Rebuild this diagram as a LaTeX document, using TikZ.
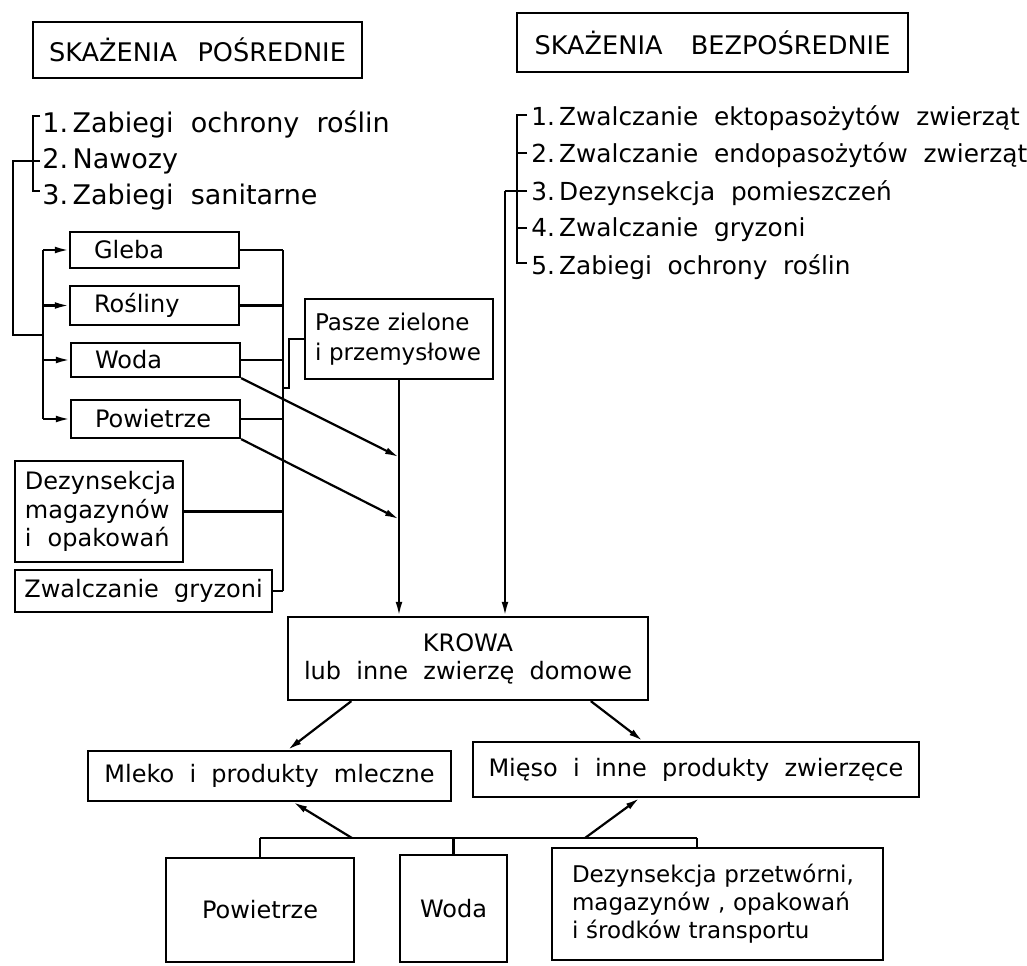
\documentclass[tikz,border=0pt]{standalone}
\usepackage{fontspec}
\setmainfont{DejaVu Sans}[WordSpace=2.0]
\usetikzlibrary{arrows.meta,calc}
\begin{document}
\begin{tikzpicture}[x=0.5pt,y=-0.5pt,
  ln/.style={line width=1.1pt},
  arr/.style={line width=1.1pt,-{Latex[length=7pt,width=3.4pt]}},
  box/.style={draw,line width=1.1pt,inner sep=0pt,font=\fontsize{12}{14.5}\selectfont},
  lbox/.style={box,align=left},
  itemL/.style={anchor=west,inner sep=0pt,font=\fontsize{13.5}{16}\selectfont},
  itemR/.style={anchor=west,inner sep=0pt,font=\fontsize{12.4}{15}\selectfont},
  ttl/.style={box,font=\fontsize{12.8}{15}\selectfont}]
\fill[white] (0,0) rectangle (1027,965);
\useasboundingbox (0,0) rectangle (1027,965);

% titles
\node[ttl,minimum width=164.5pt,minimum height=28pt] (titleL) at (197.5,50) {SKAŻENIA\hspace{0.8em}POŚREDNIE};
\node[ttl,minimum width=195.5pt,minimum height=29.5pt] (titleR) at (712.5,42.5) {SKAŻENIA\hspace{1.1em}BEZPOŚREDNIE};

% left list
\node[itemL] (l1) at (42,124) {1.\,Zabiegi ochrony roślin};
\node[itemL] (l2) at (42,161) {2.\,Nawozy};
\node[itemL] (l3) at (42,197) {3.\,Zabiegi sanitarne};

% right list
\node[itemR] (r1) at (531,118) {1.\,Zwalczanie ektopasożytów zwierząt};
\node[itemR] (r2) at (531,155) {2.\,Zwalczanie endopasożytów zwierząt};
\node[itemR] (r3) at (531,193) {3.\,Dezynsekcja pomieszczeń};
\node[itemR] (r4) at (531,230) {4.\,Zwalczanie gryzoni};
\node[itemR] (r5) at (531,267) {5.\,Zabiegi ochrony roślin};

% left boxes
\node[lbox,minimum height=18pt,inner xsep=12pt,text width=60.5pt] (gleba) at (154.5,250) {Gleba};
\node[lbox,minimum height=19.5pt,inner xsep=12pt,text width=60.5pt] (rosliny) at (154.5,305.5) {Rośliny};
\node[lbox,minimum height=17pt,inner xsep=12pt,text width=60.5pt] (woda) at (155.5,360) {Woda};
\node[lbox,minimum height=19pt,inner xsep=12pt,text width=60.5pt] (powietrze) at (155.5,419) {Powietrze};

\node[lbox,minimum height=40pt,inner xsep=5pt,text width=84pt,font=\fontsize{11.5}{15}\selectfont] (pasze) at (399,339) {Pasze~zielone\\i~przemysłowe};

\node[lbox,minimum height=50.5pt,inner xsep=5pt,text width=74pt,font=\fontsize{12}{14.25}\selectfont] (dezmag) at (99,511.5) {Dezynsekcja\\magazynów\\i~~opakowań};
\node[box,minimum width=128.5pt,minimum height=21pt] (zwalcz) at (143.5,591) {Zwalczanie gryzoni};

% central
\node[box,align=center,minimum width=180pt,minimum height=41.5pt,font=\fontsize{12}{14}\selectfont] (krowa) at (468,658.5) {KROWA\\lub inne zwierzę domowe};
\node[box,minimum width=181.5pt,minimum height=25pt] (mleko) at (269.5,776) {Mleko i produkty mleczne};
\node[box,minimum width=223pt,minimum height=27.5pt] (mieso) at (696,769.5) {Mięso i inne produkty zwierzęce};

% bottom boxes
\node[box,minimum width=94pt,minimum height=52pt] (powB) at (260,910) {Powietrze};
\node[box,minimum width=53.5pt,minimum height=53.5pt] (wodaB) at (453.5,908.5) {Woda};
\node[lbox,minimum height=56pt,inner xsep=10pt,text width=145.5pt,font=\fontsize{11.5}{14}\selectfont] (dezB) at (717.5,904) {Dezynsekcja~przetwórni,\\magazynów~,~opakowań\\i~środków~transportu};

% ---- connectors ----
% left list bracket
\coordinate (brL) at (33,0);
\coordinate (lt) at ($(l1.west)+(-2,-8)$);
\coordinate (lb) at ($(l3.west)+(-2,-6)$);
\draw[ln] (lt) -- (lt -| brL) -- (lb -| brL) -- (lb);
\coordinate (lm) at ($(l2.west)+(-2,0)$);
\coordinate (oL) at (13,335);
\coordinate (bL) at (43,335);
\draw[ln] (lm) -- (lm -| oL) -- (oL) -- (bL);
\draw[ln] (bL |- gleba.west) -- (bL |- powietrze.west);
\foreach \b in {gleba,rosliny,woda,powietrze}
  \draw[arr] (bL |- \b.west) -- (\b.west);

% right collecting bus
\coordinate (bR) at (283,0);
\foreach \b in {gleba,rosliny,woda,powietrze,dezmag,zwalcz}
  \draw[ln] (\b.east) -- (\b.east -| bR);
\draw[ln] (gleba.east -| bR) -- (zwalcz.east -| bR);
\coordinate (ps) at (289,388);
\draw[ln] (ps -| bR) -- (ps) |- (pasze.west);

% feed line to cow
\draw[arr] (pasze.south) -- (pasze.south |- krowa.north);
\path (pasze.south) ++(0,77) coordinate (jw) ++(0,62) coordinate (jp);
\draw[arr] (woda.south east) -- (jw);
\draw[arr] (powietrze.south east) -- (jp);

% right list bracket and line
\coordinate (brR) at (517,0);
\coordinate (vR) at (505,0);
\coordinate (rt) at ($(r1.west)+(-4,-3)$);
\coordinate (rb) at ($(r5.west)+(-4,-4)$);
\coordinate (r2t) at ($(r2.west)+(-4,-2)$);
\coordinate (r4t) at ($(r4.west)+(-4,-2)$);
\coordinate (rm) at ($(r3.west)+(-4,-2)$);
\draw[ln] (rt) -- (rt -| brR) -- (rb -| brR) -- (rb);
\draw[ln] (r2t) -- (r2t -| brR);
\draw[ln] (r4t) -- (r4t -| brR);
\draw[ln] (rm) -- (rm -| vR);
\draw[arr] (rm -| vR) -- (vR |- krowa.north);

% cow to products
\draw[arr] ($(krowa.south west)!0.178!(krowa.south east)$) -- ($(mleko.north west)!0.55!(mleko.north east)$);
\draw[arr] ($(krowa.south west)!0.839!(krowa.south east)$) -- ($(mieso.north west)!0.381!(mieso.north east)$);

% bottom sources
\coordinate (jb) at (0,838);
\coordinate (dj) at (697,838);
\draw[ln] (powB.north |- jb) -- (dj);
\draw[ln] (powB.north) -- (powB.north |- jb);
\draw[ln] (wodaB.north) -- (wodaB.north |- jb);
\draw[ln] (dj) -- (dj |- dezB.north);
\coordinate (ja) at (352,838);
\coordinate (jc) at (585,838);
\draw[arr] (ja) -- ($(mleko.south west)!0.565!(mleko.south east)$);
\draw[arr] (jc) -- ($(mieso.south west)!0.374!(mieso.south east)$);
\end{tikzpicture}
\end{document}
